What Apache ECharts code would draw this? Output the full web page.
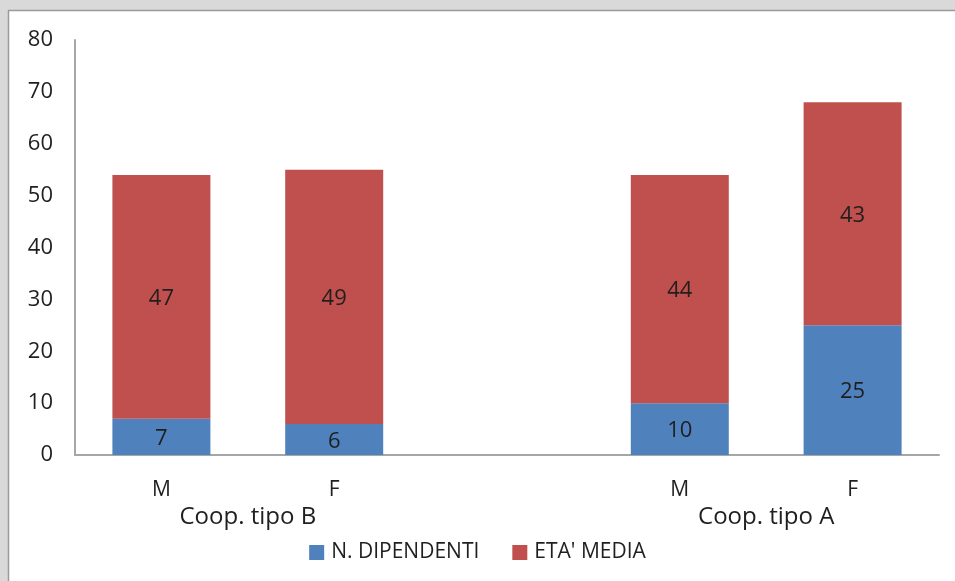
<!DOCTYPE html>
<html>
<head>
<meta charset="utf-8">
<script src="https://cdn.jsdelivr.net/npm/echarts@6/dist/echarts.min.js"></script>
<style>
  html, body { margin: 0; padding: 0; background: #d9d9d9; }
  #chart { width: 955px; height: 581px; }
</style>
</head>
<body>
<div id="chart"></div>
<script>
// Categories along the x axis (an empty slot separates the two cooperative types)
const categories = ['M', 'F', '', 'M', 'F'];
// Group captions and the category index range each one covers
const groupNames = ['Coop. tipo B', 'Coop. tipo A'];
const groupSpans = [[0, 1], [3, 4]];
// Series values
const dipendenti = [7, 6, null, 10, 25];
const etaMedia = [47, 49, null, 44, 43];
const seriesNames = ['N. DIPENDENTI', "ETA' MEDIA"];
// Y axis range
const yMin = 0, yMax = 80, yStep = 10;

const FONT = '"Open Sans", "Noto Sans", sans-serif';
const TEXT = '#1f1f1f';

// Centre of each group, in category units, used to place its caption
const groupCentres = groupSpans.map(s => (s[0] + s[1] + 1) / 2);

const segmentLabel = {
  show: true, position: 'inside', offset: [0, 2],
  fontFamily: FONT, fontSize: 22, color: TEXT
};

const chart = echarts.init(document.getElementById('chart'));
chart.setOption({
  animation: false,
  backgroundColor: '#d9d9d9',
  graphic: [{
    type: 'rect',
    shape: { x: 8.5, y: 10.5, width: 960, height: 600 },
    style: { fill: '#ffffff', stroke: '#9a9a9a', lineWidth: 1.5 },
    z: -10
  }],
  grid: { left: 75, right: 16, top: 40, bottom: 126, containLabel: false },
  legend: {
    data: seriesNames,
    top: 537,
    left: 'center',
    itemWidth: 15,
    itemHeight: 15,
    itemGap: 33,
    icon: 'rect',
    textStyle: { fontFamily: FONT, fontSize: 21, color: TEXT, padding: [0, 0, 0, 2] }
  },
  xAxis: [{
    type: 'category',
    data: categories,
    axisLine: { lineStyle: { color: '#a6a6a6', width: 2 } },
    axisTick: { show: false },
    axisLabel: { margin: 25, fontFamily: FONT, fontSize: 21, color: TEXT, interval: 0 }
  }, {
    type: 'value',
    position: 'bottom',
    min: 0,
    max: categories.length,
    interval: 1,
    axisLine: { show: false },
    axisTick: { show: false },
    splitLine: { show: false },
    axisLabel: {
      margin: 50,
      fontFamily: FONT,
      fontSize: 24,
      color: TEXT,
      showMinLabel: false,
      showMaxLabel: false,
      formatter: v => {
        const i = groupCentres.indexOf(v);
        return i >= 0 ? groupNames[i] : '';
      }
    }
  }],
  yAxis: {
    type: 'value',
    min: yMin,
    max: yMax,
    interval: yStep,
    axisLine: { show: true, lineStyle: { color: '#a6a6a6', width: 2 } },
    axisTick: { show: false },
    splitLine: { show: false },
    axisLabel: { margin: 22, fontFamily: FONT, fontSize: 22, color: TEXT }
  },
  series: [{
    name: seriesNames[0],
    type: 'bar',
    stack: 'tot',
    barWidth: 98,
    data: dipendenti,
    itemStyle: { color: '#4f81bd' },
    label: segmentLabel
  }, {
    name: seriesNames[1],
    type: 'bar',
    stack: 'tot',
    barWidth: 98,
    data: etaMedia,
    itemStyle: { color: '#c0504d' },
    label: segmentLabel
  }]
});
</script>
</body>
</html>
